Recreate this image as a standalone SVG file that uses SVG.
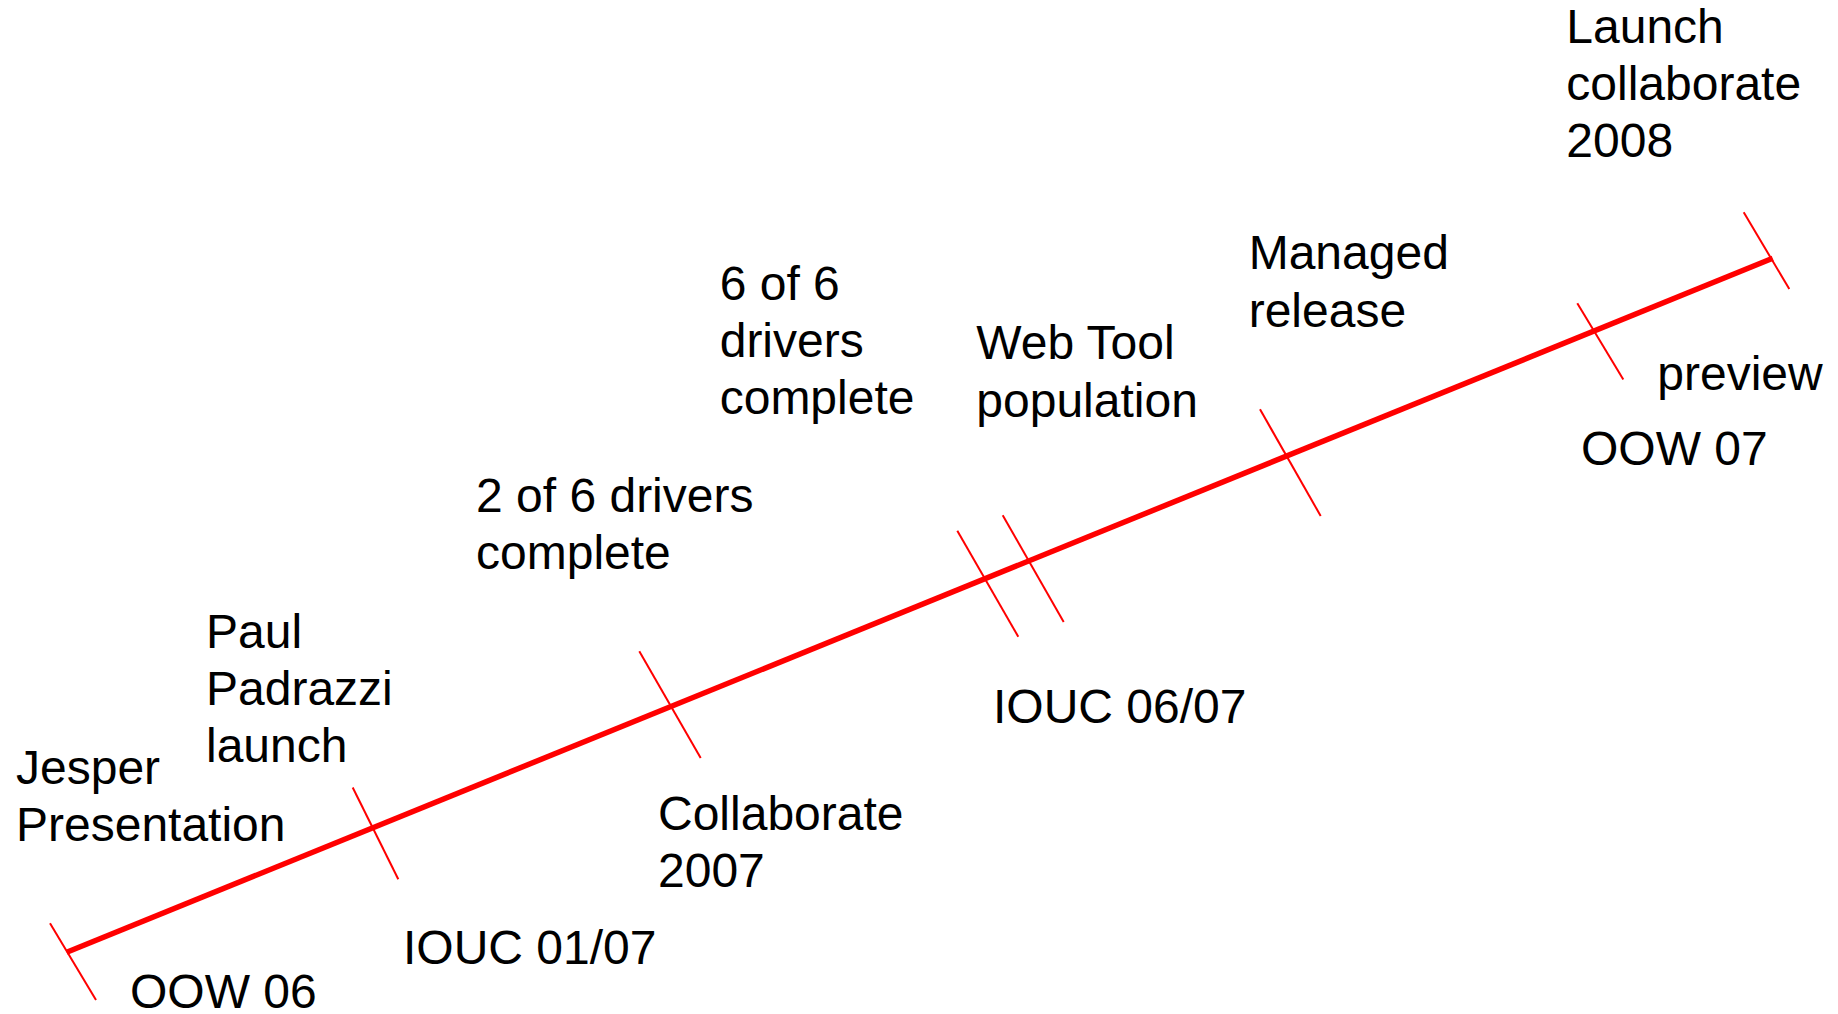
<svg xmlns="http://www.w3.org/2000/svg" width="1838" height="1014" viewBox="0 0 1838 1014">
<style>
.lbl{font-family:"Liberation Sans",Arial,sans-serif;font-size:48px;fill:#000}
.axis{stroke:#ff0000;stroke-width:5.5;stroke-linecap:butt;fill:none}
.tick{stroke:#ff0000;stroke-width:2;fill:none}
</style>
<rect width="1838" height="1014" fill="#ffffff"/>
<g id="connectors">
<line class="axis" x1="66.7" y1="952.3" x2="1772.7" y2="258.3"/>
</g>
<g id="oow06">
<line class="tick" x1="50" y1="923.3" x2="96" y2="1000"/>
<text class="lbl" x="16" y="784"><tspan x="16">Jesper</tspan><tspan x="16" dy="57">Presentation</tspan></text>
<text class="lbl" x="130" y="1008">OOW 06</text>
</g>
<g id="iouc0107">
<line class="tick" x1="352.7" y1="787.5" x2="398.3" y2="879.3"/>
<text class="lbl" x="206" y="648"><tspan x="206">Paul</tspan><tspan x="206" dy="57">Padrazzi</tspan><tspan x="206" dy="57">launch</tspan></text>
<text class="lbl" x="403" y="964">IOUC 01/07</text>
</g>
<g id="collaborate2007">
<line class="tick" x1="639.3" y1="651.3" x2="700.7" y2="758"/>
<text class="lbl" x="476" y="511.7"><tspan x="476">2 of 6 drivers</tspan><tspan x="476" dy="57">complete</tspan></text>
<text class="lbl" x="658" y="830"><tspan x="658">Collaborate</tspan><tspan x="658" dy="56.5">2007</tspan></text>
</g>
<g id="iouc0607">
<line class="tick" x1="957.3" y1="530.7" x2="1018.3" y2="636.7"/>
<line class="tick" x1="1002.7" y1="515.3" x2="1063.7" y2="622"/>
<text class="lbl" x="719.7" y="300"><tspan x="719.7">6 of 6</tspan><tspan x="719.7" dy="57">drivers</tspan><tspan x="719.7" dy="57">complete</tspan></text>
<text class="lbl" x="976.3" y="359.3"><tspan x="976.3">Web Tool</tspan><tspan x="976.3" dy="57.4">population</tspan></text>
<text class="lbl" x="993" y="722.7">IOUC 06/07</text>
</g>
<g id="managed">
<line class="tick" x1="1260" y1="409.3" x2="1320.7" y2="516"/>
<text class="lbl" x="1248.7" y="269.3"><tspan x="1248.7">Managed</tspan><tspan x="1248.7" dy="57.4">release</tspan></text>
</g>
<g id="oow07">
<line class="tick" x1="1577.3" y1="303.3" x2="1623.3" y2="379.5"/>
<text class="lbl" x="1657.3" y="390">preview</text>
<text class="lbl" x="1581" y="465">OOW 07</text>
</g>
<g id="launch2008">
<line class="tick" x1="1743.7" y1="212.3" x2="1789.3" y2="289"/>
<text class="lbl" x="1566.3" y="43.3"><tspan x="1566.3">Launch</tspan><tspan x="1566.3" dy="56.7">collaborate</tspan><tspan x="1566.3" dy="56.7">2008</tspan></text>
</g>
</svg>
